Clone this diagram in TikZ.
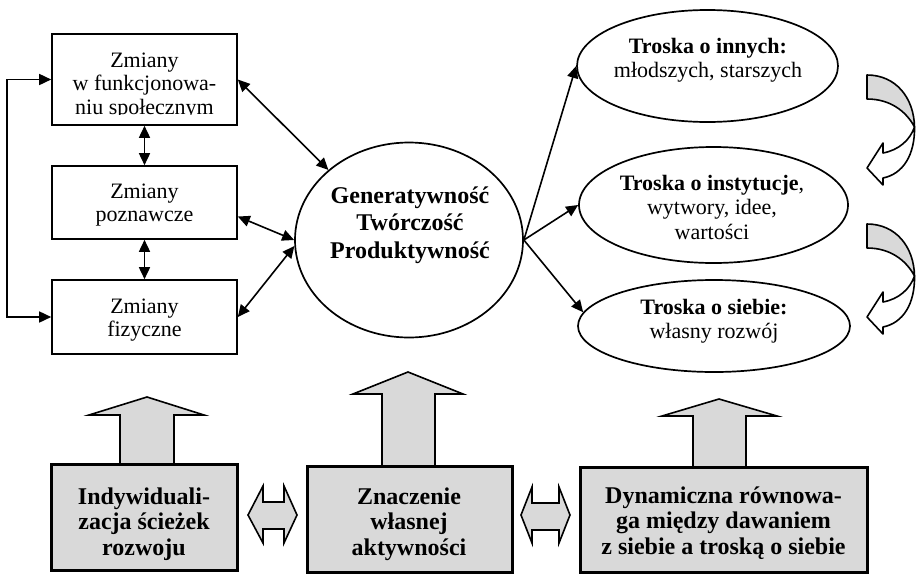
\documentclass[tikz,border=0pt]{standalone}
\usepackage{fontspec}
\setmainfont{Liberation Serif}
\usetikzlibrary{arrows.meta,shapes.geometric,calc}
\definecolor{panelgray}{RGB}{217,217,217}

\tikzset{
  tip/.tip={Triangle[length=12pt,width=11pt]},
  thinline/.style={line width=1.6pt},
  link/.style={thinline,-tip},
  duallink/.style={thinline,tip-tip},
  chbox/.style={draw,thinline,minimum width=185pt,inner sep=0pt},
  chtext/.style={align=center,inner sep=0pt,font=\fontsize{22}{23.5}\selectfont},
  careoval/.style={draw,ellipse,line width=1.7pt,inner sep=0pt},
  centertext/.style={align=center,inner sep=0pt,font=\bfseries\fontsize{24}{27.5}\selectfont},
  factorbox/.style={draw,fill=panelgray,line width=3pt,inner sep=0pt},
  factortext/.style={align=center,inner sep=0pt,font=\bfseries\fontsize{24}{25.5}\selectfont},
  blockarrow/.style={draw,fill=panelgray,line width=1.6pt,line join=miter},
  turnarrow/.style={draw,line width=1.6pt,line join=round}
}

\begin{document}
\begin{tikzpicture}[x=1pt,y=-1pt]
\useasboundingbox (0,0) rectangle (916,574);

% ---- three kinds of change (left column)
\node[chbox,minimum height=91pt] (zsp) at (144.5,79.5) {};
\node[chbox,minimum height=73pt] (zpo) at (144.5,202.5) {};
\node[chbox,minimum height=74pt] (zfi) at (144.5,317) {};

\begin{scope}
  \clip (53,35) rectangle (236,114.5);
  \node[chtext] (zsp-t) at (144.5,86) {Zmiany\\w funkcjonowa-\\niu społecznym};
\end{scope}
\node[chtext] (zpo-t) at (144.5,205) {Zmiany\\poznawcze};
\node[chtext] (zfi-t) at (144.5,320) {Zmiany\\fizyczne};

\draw[duallink] (zsp.south) -- (zpo.north);
\draw[duallink] (zpo.south) -- (zfi.north);
\draw[duallink] (zsp.west) -- ++(-44,0) |- (zfi.west);

% ---- central ellipse
\node[careoval,minimum width=228pt,minimum height=195pt] (gen) at (409,240) {};
\node[centertext] (gen-t) at (410,225) {Generatywność\\Twórczość\\Produktywność};

\draw[duallink] (zsp.east) -- (gen.139);
\draw[duallink] ($(zpo.east)+(0,14)$) -- (gen.west);
\draw[duallink] (zfi.east) -- (gen.183);

% ---- areas of care (right column)
\node[careoval,minimum width=261pt,minimum height=112pt] (inn) at (707.5,66) {};
\node[careoval,minimum width=269pt,minimum height=116pt] (ins) at (713.5,205) {};
\node[careoval,minimum width=272pt,minimum height=92pt] (sie) at (714,326) {};

\node[chtext] (inn-t) at (708,60) {\textbf{Troska o innych:}\\młodszych, starszych};
\node[chtext,font=\fontsize{22}{24.5}\selectfont] (ins-t) at (712,207) {\textbf{Troska o instytucje},\\wytwory, idee,\\wartości};
\node[chtext] (sie-t) at (714,321) {\textbf{Troska o siebie:}\\własny rozwój};

\draw[link] (gen.east) -- (inn.west);
\draw[link] (gen.east) -- (ins.west);
\draw[link] (gen.east) -- (sie.174);

% ---- turning arrows between the areas of care
\foreach \dy in {0,149}{
  \begin{scope}[shift={(0,\dy)}]
    \path[turnarrow,fill=panelgray]
      (867,75) .. controls (896,75) and (914,98) .. (914.5,127)
      .. controls (906,111) and (890,99) .. (867,99) -- cycle;
    \path[turnarrow,fill=white]
      (914.5,127) .. controls (915,155) and (903,174) .. (883,178)
      -- (883,185) -- (867,168) -- (883,143) -- (883,153)
      .. controls (899,150) and (910,140) .. (914.5,127) -- cycle;
  \end{scope}
}

% ---- upward block arrows from the three factors
\path[blockarrow] (120,466) -- (120,415) -- (89,415) -- (147,397)
  -- (204,415) -- (174,415) -- (174,466);
\path[blockarrow] (382,467) -- (382,394) -- (353,394) -- (408,372)
  -- (463,394) -- (435,394) -- (435,467);
\path[blockarrow] (693,468) -- (693,416) -- (662,416) -- (719,399)
  -- (777,416) -- (746,416) -- (746,468);

% ---- the three factors
\node[factorbox,minimum width=186pt,minimum height=106pt] (ind) at (144,517) {};
\node[factorbox,minimum width=205pt,minimum height=106pt] (zna) at (409.5,519) {};
\node[factorbox,minimum width=287pt,minimum height=105pt] (dyn) at (723.5,519.5) {};

\node[factortext] (ind-t) at (144,524) {Indywiduali-\\zacja ścieżek\\rozwoju};
\node[factortext] (zna-t) at (409,524) {Znaczenie\\własnej\\aktywności};
\node[factortext] (dyn-t) at (723.5,523) {Dynamiczna równowa-\\ga między dawaniem\\z siebie a troską o siebie};

% ---- two-way block arrows between the factors
\path[blockarrow] (248,515) -- (263,486) -- (263,502) -- (284,502) -- (284,486)
  -- (297,515) -- (284,543) -- (284,529) -- (263,529) -- (263,543) -- cycle;
\path[blockarrow] (521,515) -- (532,487) -- (532,503) -- (559,503) -- (559,487)
  -- (570,515) -- (559,543) -- (559,530) -- (532,530) -- (532,543) -- cycle;

\end{tikzpicture}
\end{document}
